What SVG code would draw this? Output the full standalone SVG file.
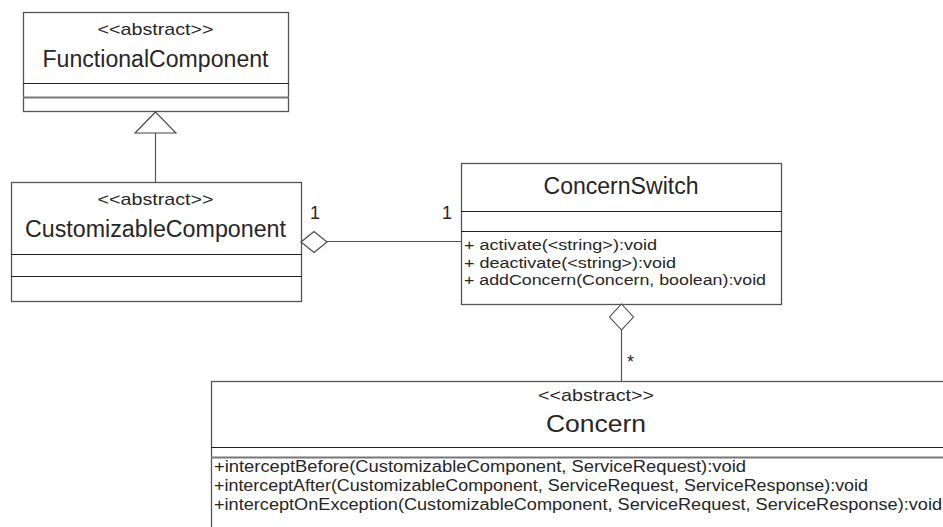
<svg xmlns="http://www.w3.org/2000/svg" width="943" height="527" viewBox="0 0 943 527">
<style>
.box{fill:#fff;stroke:#555;stroke-width:1.3}
.div{stroke:#222;stroke-width:1.2}
.div2{stroke:#777;stroke-width:2}
.t{font-family:"Liberation Sans",Arial,sans-serif;fill:#262626}
.st{font-size:17px;text-anchor:middle}
.nm{font-size:23px;text-anchor:middle}
.m{font-size:15.5px}
.cm{font-size:16px}
.ml{font-size:18px}
.edge{stroke:#555;stroke-width:1.2;fill:none}
.head{fill:#fff;stroke:#444;stroke-width:1.1}
</style>
<rect width="943" height="527" fill="#fff"/>
<g id="FunctionalComponent">
<rect class="box" x="23.5" y="12.5" width="265" height="99"/>
<line class="div" x1="23" y1="83.5" x2="289" y2="83.5"/>
<line class="div2" x1="23" y1="97.5" x2="289" y2="97.5"/>
<text class="t st" x="155.5" y="35" textLength="116" lengthAdjust="spacingAndGlyphs">&lt;&lt;abstract&gt;&gt;</text>
<text class="t nm" x="155.5" y="67" textLength="226" lengthAdjust="spacingAndGlyphs">FunctionalComponent</text>
</g>
<g id="CustomizableComponent">
<rect class="box" x="11.5" y="182.5" width="290" height="119"/>
<line class="div" x1="11" y1="254.5" x2="302" y2="254.5"/>
<line class="div" x1="11" y1="276.5" x2="302" y2="276.5"/>
<text class="t st" x="155.5" y="205" textLength="116" lengthAdjust="spacingAndGlyphs">&lt;&lt;abstract&gt;&gt;</text>
<text class="t nm" x="155.5" y="237" textLength="261" lengthAdjust="spacingAndGlyphs">CustomizableComponent</text>
</g>
<g id="ConcernSwitch">
<rect class="box" x="461.5" y="163.5" width="320" height="141"/>
<line class="div" x1="461" y1="211.5" x2="782" y2="211.5"/>
<line class="div" x1="461" y1="231.5" x2="782" y2="231.5"/>
<text class="t nm" x="621" y="194" textLength="155" lengthAdjust="spacingAndGlyphs">ConcernSwitch</text>
<text class="t m" x="464" y="250" textLength="193" lengthAdjust="spacingAndGlyphs">+ activate(&lt;string&gt;):void</text>
<text class="t m" x="464" y="267.5" textLength="212" lengthAdjust="spacingAndGlyphs">+ deactivate(&lt;string&gt;):void</text>
<text class="t m" x="464" y="285" textLength="302" lengthAdjust="spacingAndGlyphs">+ addConcern(Concern, boolean):void</text>
</g>
<g id="Concern">
<rect class="box" x="211.5" y="381.5" width="770" height="160"/>
<line class="div" x1="211" y1="447.5" x2="943" y2="447.5"/>
<line class="div2" x1="211" y1="457.5" x2="943" y2="457.5"/>
<text class="t st" x="596" y="401" textLength="116" lengthAdjust="spacingAndGlyphs">&lt;&lt;abstract&gt;&gt;</text>
<text class="t nm" x="596" y="432" textLength="100" lengthAdjust="spacingAndGlyphs">Concern</text>
<text class="t cm" x="214" y="472" textLength="532" lengthAdjust="spacingAndGlyphs">+interceptBefore(CustomizableComponent, ServiceRequest):void</text>
<text class="t cm" x="214" y="491" textLength="654" lengthAdjust="spacingAndGlyphs">+interceptAfter(CustomizableComponent, ServiceRequest, ServiceResponse):void</text>
<text class="t cm" x="214" y="510" textLength="728" lengthAdjust="spacingAndGlyphs">+interceptOnException(CustomizableComponent, ServiceRequest, ServiceResponse):void</text>
</g>
<g id="connectors">
<line class="edge" x1="155.5" y1="133" x2="155.5" y2="182"/>
<polygon class="head" points="155.5,112 135,133 176,133"/>
<line class="edge" x1="327" y1="241.5" x2="461" y2="241.5"/>
<polygon class="head" points="301,242 314,231.5 327,242 314,252.5"/>
<text class="t ml" x="310" y="219">1</text>
<text class="t ml" x="442" y="219">1</text>
<line class="edge" x1="621.5" y1="330" x2="621.5" y2="381"/>
<polygon class="head" points="621.5,304 633.5,317 621.5,330 609.5,317"/>
<text class="t ml" x="627" y="368">*</text>
</g>
</svg>
